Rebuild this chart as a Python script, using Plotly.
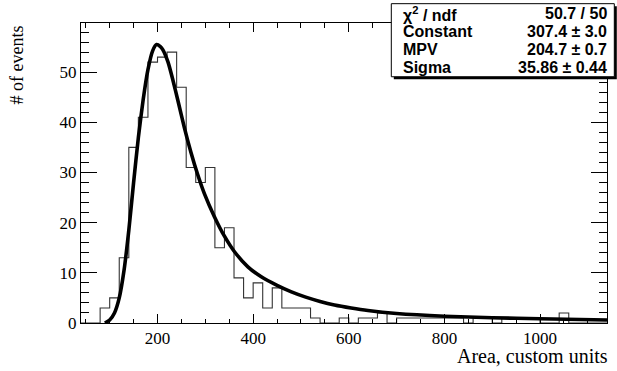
import plotly.graph_objects as go

# ---- data ----
bin_start = 40
bin_width = 20
counts = [0, 0, 3, 5, 13, 35, 41, 52, 53, 54, 47, 31, 28, 31, 15, 19, 9, 5, 8, 3,
          7, 3, 3, 3, 1, 0, 0, 1, 0, 1, 1, 2, 0, 1, 1, 1, 1, 1, 1, 1,
          0, 1, 1, 0, 1, 1, 1, 1, 0, 0, 2, 0, 0, 0, 0]

fit_x = [90, 100, 110, 120, 130, 140, 150, 160, 170, 180, 190, 198, 206, 211, 222,
         232, 243, 256, 270, 284, 298, 319, 340, 361, 389, 417, 450, 480, 510, 540,
         570, 605, 640, 700, 800, 900, 1000, 1140]
fit_y = [0, 0.6, 2.0, 5.0, 10.5, 18.5, 28, 37, 44.5, 50.5, 54.3, 55.5, 55.1, 54.5, 52,
         48.5, 44.2, 39, 34, 29.6, 25.8, 21.2, 17.3, 14.2, 11.2, 9.2, 7.5, 6.2, 5.15, 4.3,
         3.6, 3.0, 2.5, 1.9, 1.35, 1.05, 0.85, 0.6]

stat_names = ["χ<sup>2</sup> / ndf", "Constant", "MPV", "Sigma"]
stat_values = ["50.7 / 50", "307.4 ± 3.0", "204.7 ± 0.7", "35.86 ± 0.44"]

x_title = "Area, custom units"
y_title = "# of events"

# ---- build ----
edges = [bin_start + i * bin_width for i in range(len(counts) + 1)]
hist_y = counts + [counts[-1]]

W, H = 617, 371
L, R, T, B = 80.7, 10.3, 23.3, 48.0
pw, ph = W - L - R, H - T - B


def px2x(px):
    return (px - L) / pw


def py2y(py):
    return (H - B - py) / ph


fig = go.Figure()
fig.add_trace(go.Scatter(x=edges, y=hist_y, mode="lines", line_shape="hv",
                         line=dict(color="#333333", width=1.1), hoverinfo="skip",
                         showlegend=False))
fig.add_trace(go.Scatter(x=fit_x, y=fit_y, mode="lines", line_shape="spline",
                         line=dict(color="black", width=3.6, smoothing=0.6),
                         showlegend=False))

serif = "Liberation Serif, Times New Roman, serif"
sans = "Liberation Sans, Arial, sans-serif"

fig.update_xaxes(range=[edges[0], edges[-1]], showgrid=False, zeroline=False,
                 showline=True, linecolor="black", linewidth=1, mirror="ticks",
                 ticks="inside", ticklen=9, tickwidth=1, tickcolor="black",
                 tick0=0, dtick=200,
                 minor=dict(ticks="inside", ticklen=4.5, dtick=50, tick0=0,
                            tickcolor="black", tickwidth=1),
                 tickfont=dict(family=serif, size=17, color="black"))
fig.update_yaxes(range=[0, 59.8], showgrid=False, zeroline=False,
                 showline=True, linecolor="black", linewidth=1, mirror="ticks",
                 ticks="inside", ticklen=15.8, tickwidth=1, tickcolor="black",
                 tick0=0, dtick=10,
                 minor=dict(ticks="inside", ticklen=7.9, dtick=2, tick0=0,
                            tickcolor="black", tickwidth=1),
                 tickfont=dict(family=serif, size=17, color="black"))

# stats box
bx0, bx1, by0, by1 = 391, 614, 4, 77
fig.add_shape(type="rect", xref="paper", yref="paper",
              x0=px2x(bx0 + 2.5), x1=px2x(bx1 + 2.5), y0=py2y(by1 + 2.5), y1=py2y(by0 + 2.5),
              fillcolor="black", line=dict(width=0), layer="above")
fig.add_shape(type="rect", xref="paper", yref="paper",
              x0=px2x(bx0), x1=px2x(bx1), y0=py2y(by1), y1=py2y(by0),
              fillcolor="white", line=dict(color="black", width=1), layer="above")
row_y = [14, 32, 50, 68]
for name, val, ry in zip(stat_names, stat_values, row_y):
    fig.add_annotation(xref="paper", yref="paper", x=px2x(401), y=py2y(ry),
                       xanchor="left", yanchor="middle", text="<b>%s</b>" % name,
                       showarrow=False, font=dict(family=sans, size=16, color="black"))
    fig.add_annotation(xref="paper", yref="paper", x=px2x(609), y=py2y(ry),
                       xanchor="right", yanchor="middle", text="<b>%s</b>" % val,
                       showarrow=False, font=dict(family=sans, size=16, color="black"))

# axis titles
fig.add_annotation(xref="paper", yref="paper", x=px2x(610), y=py2y(356),
                   xanchor="right", yanchor="middle", text=x_title, showarrow=False,
                   font=dict(family=serif, size=20, color="black"))
fig.add_annotation(xref="paper", yref="paper", x=px2x(17), y=py2y(24),
                   xanchor="center", yanchor="top", text=y_title, textangle=-90,
                   showarrow=False, font=dict(family=serif, size=18, color="black"))

fig.update_layout(width=W, height=H, margin=dict(l=L, r=R, t=T, b=B),
                  plot_bgcolor="white", paper_bgcolor="white")

fig.write_html("out.html", config={"displayModeBar": False},
               post_script="document.body.style.margin='0';")
